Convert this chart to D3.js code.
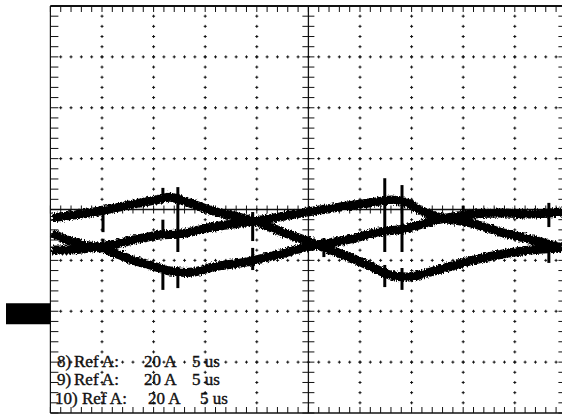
<!DOCTYPE html>
<html>
<head>
<meta charset="utf-8">
<script src="https://cdn.jsdelivr.net/npm/d3@7"></script>
<style>
  body { margin: 0; background: #fff; }
  svg { display: block; }
  text { font-family: "Liberation Serif", "Times New Roman", serif; font-size: 17px; fill: #111; stroke: #111; stroke-width: 0.4; }
</style>
</head>
<body>
<script>
// scope settings: 5 us / div horizontally, 20 A / div vertically
const width = 562, height = 416;
const plot = { left: 50.4, right: 566.4, top: 6, bottom: 413 };

// traces: [time us, current A]
const trace1 = [[0.15,36.7],[2.9,38.2],[4.8,39.4],[7.7,41.8],[9.65,43.3],[10.6,44.1],[11.6,44.8],[12.65,43.7],
  [13.5,42.6],[15.75,39.4],[17.9,37.4],[20.0,35.1],[22.25,31.5],[24.9,27.6],[27.1,24.1],[28.7,21.7],[30.95,17.8],
  [32.9,14.3],[34.8,13.5],[37.5,16.2],[40.7,19.8],[43.85,22.5],[46.5,24.1],[49.6,24.9]];
const trace2 = [[0.15,30.8],[1.6,28.0],[3.35,26.0],[4.8,24.9],[6.75,22.1],[8.0,20.1],[9.65,18.2],[11.6,15.8],
  [13.8,15.4],[15.75,17.4],[19.05,19.4],[22.25,22.5],[24.9,25.3],[28.7,28.0],[31.9,31.2],[34.17,32.3],
  [37.5,35.9],[39.98,37.8],[43.85,38.6],[46.5,38.2],[49.6,39.0]];
const trace3 = [[0.15,24.1],[1.9,24.1],[3.85,24.9],[5.8,26.0],[8.0,28.0],[10.6,30.0],[12.55,30.4],[15.75,33.1],
  [19.05,35.1],[22.25,37.1],[24.9,39.0],[28.05,41.0],[30.95,42.6],[33.1,43.7],[34.8,42.2],[35.8,39.8],
  [37.5,37.1],[40.7,34.7],[43.85,30.8],[47.15,27.6],[49.6,24.9]];
const traces = [trace1, trace2, trace3];

// switching spikes: [time us, low A, high A]
const spikes = [[5.1,31.1,39.8],[5.1,24.0,28.5],[10.9,43.0,48.5],[10.9,30.0,36.0],[10.9,8.4,16.5],
  [12.35,23.3,48.8],[12.35,9.1,17.4],[19.6,27.6,39.0],[19.6,16.2,24.9],[26.5,21.3,28.8],
  [32.4,23.3,52.3],[32.4,9.5,18.2],[34.07,23.3,49.6],[34.07,8.4,17.0],[40.0,34.5,41.5],
  [48.3,33.1,42.6],[48.3,19.0,24.1]];

// readout lines at the bottom left
const refNums = ["8)", "9)", "10)"];
const refNames = ["Ref A:", "Ref A:", "Ref A:"];
const voltsDiv = ["20 A", "20 A", "20 A"];
const timeDiv = ["5 us", "5 us", "5 us"];

const svg = d3.select("body").append("svg").attr("width", width).attr("height", height);

// rough edge for the noisy traces
const f = svg.append("defs").append("filter").attr("id", "noise")
  .attr("x", "-5%").attr("y", "-20%").attr("width", "110%").attr("height", "140%");
f.append("feTurbulence").attr("type", "fractalNoise").attr("baseFrequency", "0.9 0.5").attr("numOctaves", 2).attr("seed", 3).attr("result", "t");
f.append("feDisplacementMap").attr("in", "SourceGraphic").attr("in2", "t").attr("scale", 5)
  .attr("xChannelSelector", "R").attr("yChannelSelector", "G");

const x = d3.scaleLinear().domain([0, 50]).range([plot.left, plot.right]);
const y = d3.scaleLinear().domain([-40, 120]).range([plot.bottom, plot.top]);

const minorX = d3.range(0, 50.001, 1);
const minorY = d3.range(-40, 120.001, 4);
const majorX = d3.range(5, 50, 5).filter(d => d !== 25);
const majorY = d3.range(-20, 120, 20).filter(d => d !== 40);

// dotted graticule, little crosses at every minor step
const g = svg.append("g").attr("stroke", "#111").attr("stroke-width", 1).attr("fill", "none");
let crosses = "";
majorX.forEach(gx => minorY.slice(1, -1).forEach(v => {
  crosses += `M${x(gx) - 1.5},${y(v)}h3M${x(gx)},${y(v) - 1.5}v3`;
}));
majorY.forEach(gy => minorX.slice(1, -1).forEach(t => {
  crosses += `M${x(t) - 1.5},${y(gy)}h3M${x(t)},${y(gy) - 1.5}v3`;
}));
g.append("path").attr("d", crosses);

// centre axes with ticks
const cx = x(25), cy = y(40);
g.append("line").attr("x1", plot.left).attr("x2", plot.right).attr("y1", cy).attr("y2", cy).attr("stroke-width", 1.3);
g.append("line").attr("x1", cx).attr("x2", cx).attr("y1", plot.top).attr("y2", plot.bottom).attr("stroke-width", 1.3);
g.selectAll(".ctx").data(minorX).enter().append("line")
  .attr("x1", d => x(d)).attr("x2", d => x(d)).attr("y1", cy - 4).attr("y2", cy + 4);
g.selectAll(".cty").data(minorY).enter().append("line")
  .attr("y1", d => y(d)).attr("y2", d => y(d)).attr("x1", cx - 6).attr("x2", cx + 6);

// frame and its ticks
g.append("line").attr("x1", plot.left).attr("x2", plot.right).attr("y1", plot.top).attr("y2", plot.top).attr("stroke-width", 2);
g.append("line").attr("x1", plot.left).attr("x2", plot.right).attr("y1", plot.bottom).attr("y2", plot.bottom).attr("stroke-width", 1.5);
g.append("line").attr("x1", plot.left).attr("x2", plot.left).attr("y1", plot.top).attr("y2", plot.bottom).attr("stroke-width", 1.2);
g.append("line").attr("x1", plot.right).attr("x2", plot.right).attr("y1", plot.top).attr("y2", plot.bottom).attr("stroke-width", 1.2);
g.selectAll(".tt").data(minorX).enter().append("line")
  .attr("x1", d => x(d)).attr("x2", d => x(d)).attr("y1", plot.top).attr("y2", plot.top + 6);
g.selectAll(".tb").data(minorX).enter().append("line")
  .attr("x1", d => x(d)).attr("x2", d => x(d)).attr("y1", plot.bottom).attr("y2", plot.bottom - 6);
g.selectAll(".tl").data(minorY).enter().append("line")
  .attr("y1", d => y(d)).attr("y2", d => y(d)).attr("x1", plot.left).attr("x2", plot.left + 8);
g.selectAll(".tr").data(minorY).enter().append("line")
  .attr("y1", d => y(d)).attr("y2", d => y(d)).attr("x1", plot.right).attr("x2", plot.right - 8);

// ground marker for the reference channels
svg.append("rect").attr("x", 6).attr("y", y(0) - 8).attr("width", plot.left - 6).attr("height", 21).attr("fill", "#000");

// traces
const line = d3.line().x(d => x(d[0])).y(d => y(d[1])).curve(d3.curveCatmullRom);
svg.append("g").attr("filter", "url(#noise)")
  .selectAll("path").data(traces).enter().append("path")
  .attr("d", line)
  .attr("fill", "none")
  .attr("stroke", "#000")
  .attr("stroke-width", 9)
  .attr("stroke-linejoin", "round");
svg.append("g").selectAll("line").data(spikes).enter().append("line")
  .attr("x1", d => x(d[0])).attr("x2", d => x(d[0]))
  .attr("y1", d => y(d[1])).attr("y2", d => y(d[2]))
  .attr("stroke", "#000").attr("stroke-width", 3);

// readout
const rows = [
  { base: 367, xs: [57, 74, 144, 192] },
  { base: 385, xs: [57, 74, 144, 192] },
  { base: 404, xs: [55, 82, 148, 200] }
];
rows.forEach((r, i) => {
  const t = svg.append("text").attr("y", r.base);
  [refNums[i], refNames[i], voltsDiv[i], timeDiv[i]].forEach((s, j) => {
    t.append("tspan").attr("x", r.xs[j]).text(s);
  });
});
</script>
</body>
</html>
